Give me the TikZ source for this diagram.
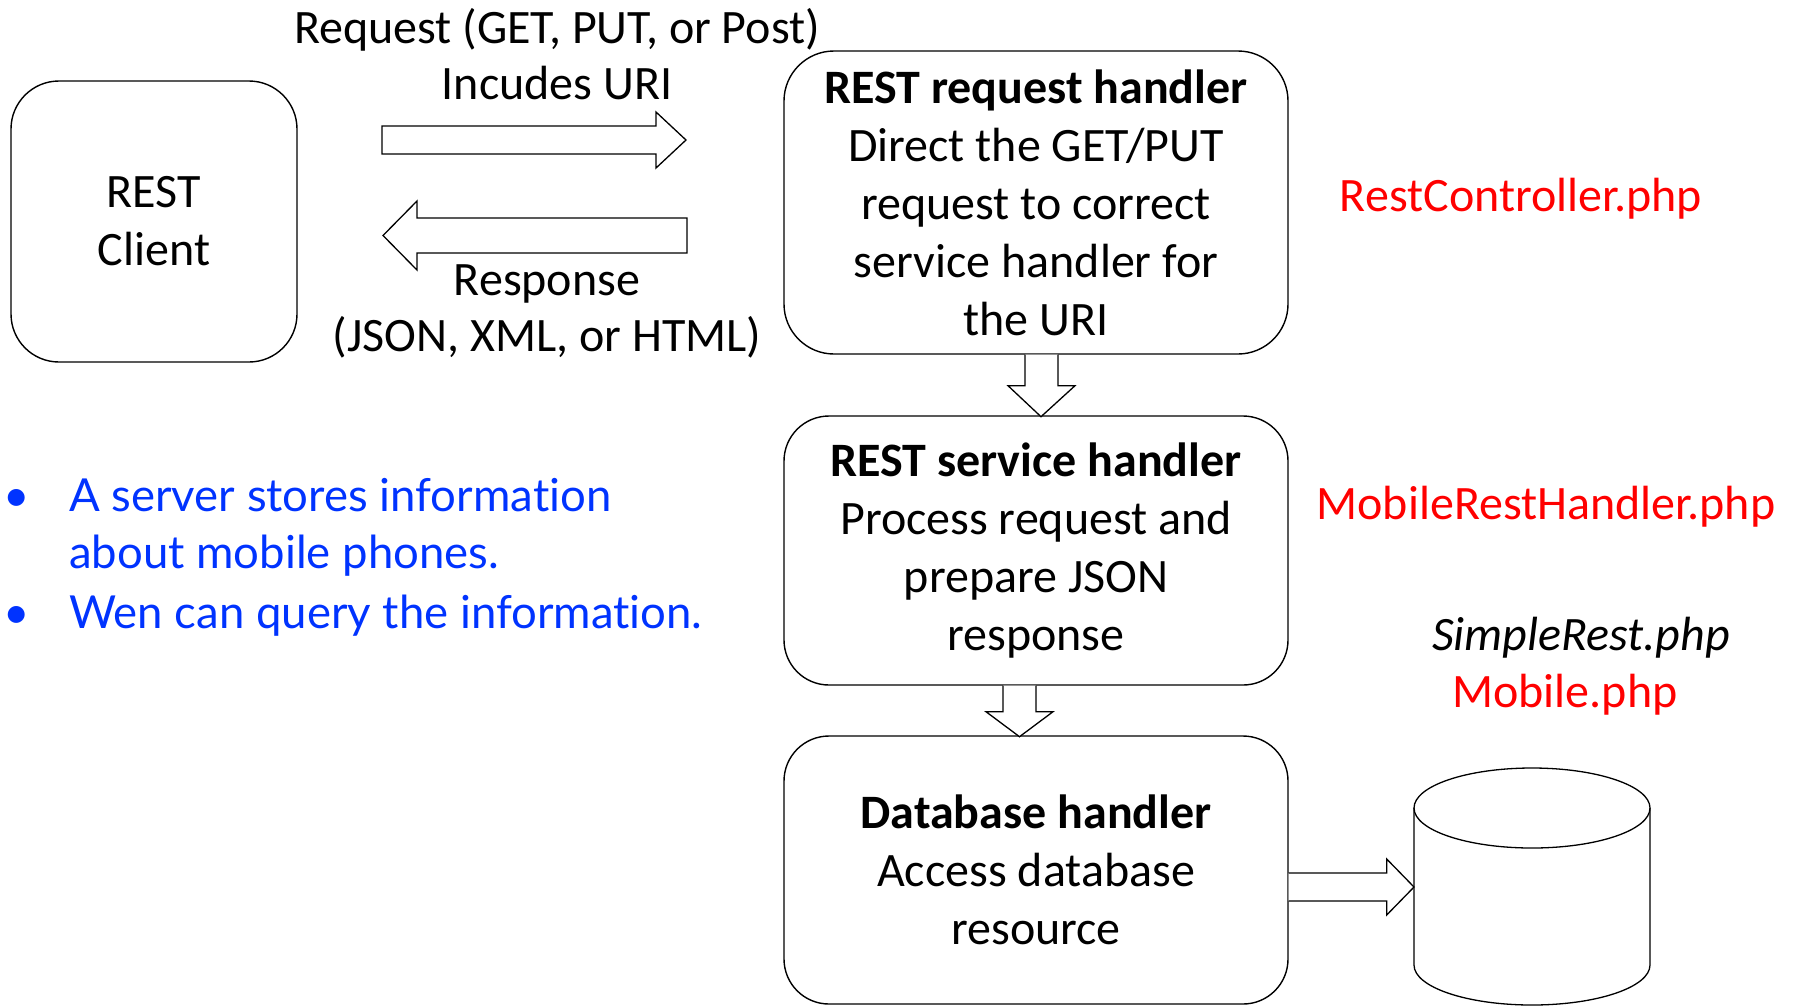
\documentclass[tikz,border=0pt]{standalone}
\usepackage{fontspec}
\setmainfont{Carlito}
\newfontfamily\gill[Ligatures=NoCommon]{Lato}
\usetikzlibrary{calc}
\definecolor{myred}{RGB}{255,0,0}
\definecolor{myblue}{RGB}{0,51,255}
\begin{document}
\begin{tikzpicture}[x=1pt,y=-1pt,
  box/.style={draw=black, line width=1.4pt, rounded corners=#1, align=center, inner sep=0pt,
    font=\fontsize{48}{58}\selectfont},
  blk/.style={draw=black, line width=1.3pt, fill=white, line join=miter},
  lbl/.style={font=\fontsize{48}{56}\selectfont, align=center, inner sep=0pt},
  redlbl/.style={font=\fontsize{48}{56}\selectfont, text=myred, inner sep=0pt},
  bul/.style={font=\gill\fontsize{45.5}{50}\selectfont, text=myblue, inner sep=0pt, anchor=base west},
  ]
\useasboundingbox (0,0) rectangle (1793,1005);

% boxes
\node[box=48pt, minimum width=286pt, minimum height=281pt] (client) at (154,221.5)
  {\fontsize{48}{55}\selectfont REST\\Client};
\node[box=50pt, minimum width=504pt, minimum height=303pt] (req) at (1036,202.5)
  {\textbf{REST request handler}\\Direct the GET/PUT\\request to correct\\service handler for\\the URI};
\node[box=45pt, minimum width=504pt, minimum height=269pt] (serv) at (1036,550.5)
  {\textbf{REST service handler}\\Process request and\\prepare JSON\\response};
\node[box=45pt, minimum width=504pt, minimum height=268pt] (db) at (1036,870)
  {\textbf{Database handler}\\Access database\\resource};
% text shifted slightly down in the request box
% cylinder
\coordinate (cyltop) at (1532,808);
\draw[line width=1.3pt, fill=white] (1414,808) -- (1414,965)
  arc[start angle=180, end angle=360, x radius=118pt, y radius=40pt] -- (1650,808);
\draw[line width=1.3pt] (cyltop) ellipse [x radius=118pt, y radius=40pt];
\coordinate (cylwest) at (1414,887);

% request / response block arrows
\draw[blk] (382,126) -- (656,126) -- (656,112) -- (686,140) -- (656,168) -- (656,154) -- (382,154) -- cycle;
\draw[blk] (687,218) -- (417,218) -- (417,201) -- (383,235.5) -- (417,270) -- (417,253) -- (687,253) -- cycle;

% down arrows
\draw[blk] ($(req.south)+(-11,0)$) -- ($(req.south)+(-11,31)$) -- ($(req.south)+(-28,31)$)
  -- ($(req.south)+(5,62)$) -- ($(req.south)+(39,31)$) -- ($(req.south)+(22,31)$) -- ($(req.south)+(22,0)$);
\draw[blk] ($(serv.south)+(-33,0)$) -- ($(serv.south)+(-33,26)$) -- ($(serv.south)+(-50,26)$)
  -- ($(serv.south)+(-16.5,51)$) -- ($(serv.south)+(17,26)$) -- ($(serv.south)+(0,26)$) -- ($(serv.south)+(0,0)$);
% arrow to database
\draw[blk] ($(db.east)+(0,3)$) -- ($(db.east)+(98,3)$) -- ($(db.east)+(98,-11)$)
  -- (cylwest) -- ($(db.east)+(98,45)$) -- ($(db.east)+(98,31)$) -- ($(db.east)+(0,31)$);

% labels
\node[lbl] (reqlbl) at (557,54) {Request (GET, PUT, or Post)\\Incudes URI};
\node[lbl] (resplbl) at (547,311) {Response\\(JSON, XML, or HTML)};

\node[redlbl] (rc) at (1521,199) {RestController.php};
\node[redlbl] (mrh) at (1546,507) {MobileRestHandler.php};
\node[redlbl, text=black] (sr) at (1581,638) {\itshape SimpleRest.php};
\node[redlbl] (mob) at (1565,695) {Mobile.php};

% bullets
\node[bul, anchor=base] (b1) at (17,511) {•};
\node[bul] (t1) at (69,511) {A server stores information};
\node[bul] (t2) at (69,568) {about mobile phones.};
\node[bul, anchor=base] (b2) at (17,628) {•};
\node[bul] (t3) at (69,628) {Wen can query the information.};
\end{tikzpicture}
\end{document}
